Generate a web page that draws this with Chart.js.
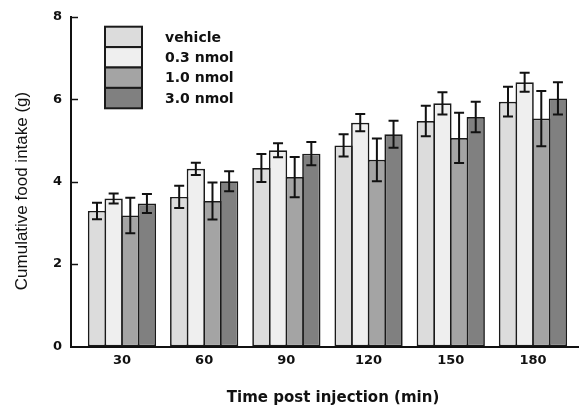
<!DOCTYPE html>
<html>
<head>
<meta charset="utf-8">
<script src="https://cdn.jsdelivr.net/npm/chart.js@4"></script>
<style>
  html, body { margin: 0; padding: 0; background: #fff; }
  #wrap { width: 579px; height: 407px; }
</style>
</head>
<body>
<div id="wrap"><canvas id="foodChart"></canvas></div>
<script>
// time points (min)
const times = [30, 60, 90, 120, 150, 180];
const groups = ['vehicle', '0.3 nmol', '1.0 nmol', '3.0 nmol'];

// cumulative food intake (g)
const vehicle = [3.29, 3.63, 4.33, 4.88, 5.47, 5.94];
const dose03  = [3.59, 4.31, 4.76, 5.43, 5.90, 6.41];
const dose10  = [3.18, 3.53, 4.11, 4.53, 5.06, 5.53];
const dose30  = [3.47, 4.01, 4.68, 5.15, 5.57, 6.02];

// SEM
const vehicleErr = [0.20, 0.27, 0.34, 0.27, 0.37, 0.36];
const dose03Err  = [0.12, 0.15, 0.17, 0.21, 0.27, 0.23];
const dose10Err  = [0.43, 0.45, 0.49, 0.52, 0.61, 0.67];
const dose30Err  = [0.23, 0.24, 0.28, 0.33, 0.37, 0.39];

const yTicks = [0, 2, 4, 6, 8];
const fills = ['#dcdcdc', '#efefef', '#a4a4a4', '#808080'];

const BOLD = '"DejaVu Sans", Arial, sans-serif';
const REG = 'Arial, "Liberation Sans", sans-serif';
const values = [vehicle, dose03, dose10, dose30];
const errors = [vehicleErr, dose03Err, dose10Err, dose30Err];

const datasets = groups.map((g, i) => ({
    label: g,
    data: times.map((t, j) => ({ x: t, y: values[i][j] })),
    err: errors[i],
    backgroundColor: fills[i],
    borderColor: '#1a1a1a',
    borderWidth: 1.7,
    borderSkipped: false,
    categoryPercentage: 0.81,
    barPercentage: 1.1   // neighbours share one border line
}));

// error bars, inward y ticks, boxed legend, axis titles
const extras = {
    id: 'extras',
    afterDatasetsDraw(chart) {
        const c = chart.ctx;
        const y = chart.scales.y;
        const area = chart.chartArea;
        c.save();
        c.strokeStyle = '#111';
        c.lineWidth = 2;
        chart.data.datasets.forEach((ds, i) => {
            const meta = chart.getDatasetMeta(i);
            meta.data.forEach((bar, j) => {
                const v = ds.data[j].y, e = ds.err[j];
                const top = y.getPixelForValue(v + e);
                const bot = y.getPixelForValue(v - e);
                c.beginPath();
                c.moveTo(bar.x, top); c.lineTo(bar.x, bot);
                c.moveTo(bar.x - 5, top); c.lineTo(bar.x + 5, top);
                c.moveTo(bar.x - 5, bot); c.lineTo(bar.x + 5, bot);
                c.stroke();
            });
        });

        // y tick marks pointing into the plot
        c.lineWidth = 1.5;
        yTicks.forEach(t => {
            if (t === 0) return;
            const py = Math.round(y.getPixelForValue(t)) + 0.5;
            c.beginPath();
            c.moveTo(area.left, py); c.lineTo(area.left + 7, py);
            c.stroke();
        });

        // legend
        const lx = 105, lw = 37, lh = 20.4;
        let ly = 26.7;
        c.font = 'bold 14px ' + BOLD;
        c.textBaseline = 'middle';
        c.textAlign = 'left';
        chart.data.datasets.forEach((ds) => {
            c.fillStyle = ds.backgroundColor;
            c.fillRect(lx, ly, lw, lh);
            c.strokeStyle = '#1a1a1a';
            c.lineWidth = 2;
            c.strokeRect(lx, ly, lw, lh);
            c.fillStyle = '#111';
            c.fillText(ds.label, 165, ly + lh / 2 + 1);
            ly += lh;
        });

        // axis titles
        c.fillStyle = '#111';
        c.textAlign = 'center';
        c.font = 'bold 15px ' + BOLD;
        c.fillText('Time post injection (min)', 333, 398);
        c.translate(22, 191);
        c.rotate(-Math.PI / 2);
        c.font = '17px ' + REG;
        c.fillText('Cumulative food intake (g)', 0, 0);
        c.restore();
    }
};

new Chart(document.getElementById('foodChart'), {
    type: 'bar',
    data: { datasets: datasets },
    options: {
        responsive: true,
        maintainAspectRatio: false,
        animation: false,
        layout: { padding: { top: 16, right: 0, left: 0, bottom: 0 } },
        plugins: {
            legend: { display: false },
            tooltip: { enabled: false }
        },
        scales: {
            x: {
                type: 'linear',
                offset: false,
                min: 11.4,
                max: 196.8,
                afterBuildTicks: (s) => { s.ticks = times.map(v => ({ value: v })); },
                afterFit: (s) => { s.height = 60.5; },
                grid: { display: false, drawTicks: false },
                border: { display: true, color: '#111', width: 2 },
                ticks: {
                    color: '#111',
                    padding: 6,
                    font: { family: BOLD, size: 13, weight: 'bold' }
                }
            },
            y: {
                min: 0,
                max: 8,
                afterBuildTicks: (s) => { s.ticks = yTicks.map(v => ({ value: v })); },
                afterFit: (s) => { s.width = 71; },
                grid: { display: false, drawTicks: false },
                border: { display: true, color: '#111', width: 2 },
                ticks: {
                    color: '#111',
                    padding: 9,
                    font: { family: BOLD, size: 13, weight: 'bold' }
                }
            }
        }
    },
    plugins: [extras]
});
</script>
</body>
</html>
